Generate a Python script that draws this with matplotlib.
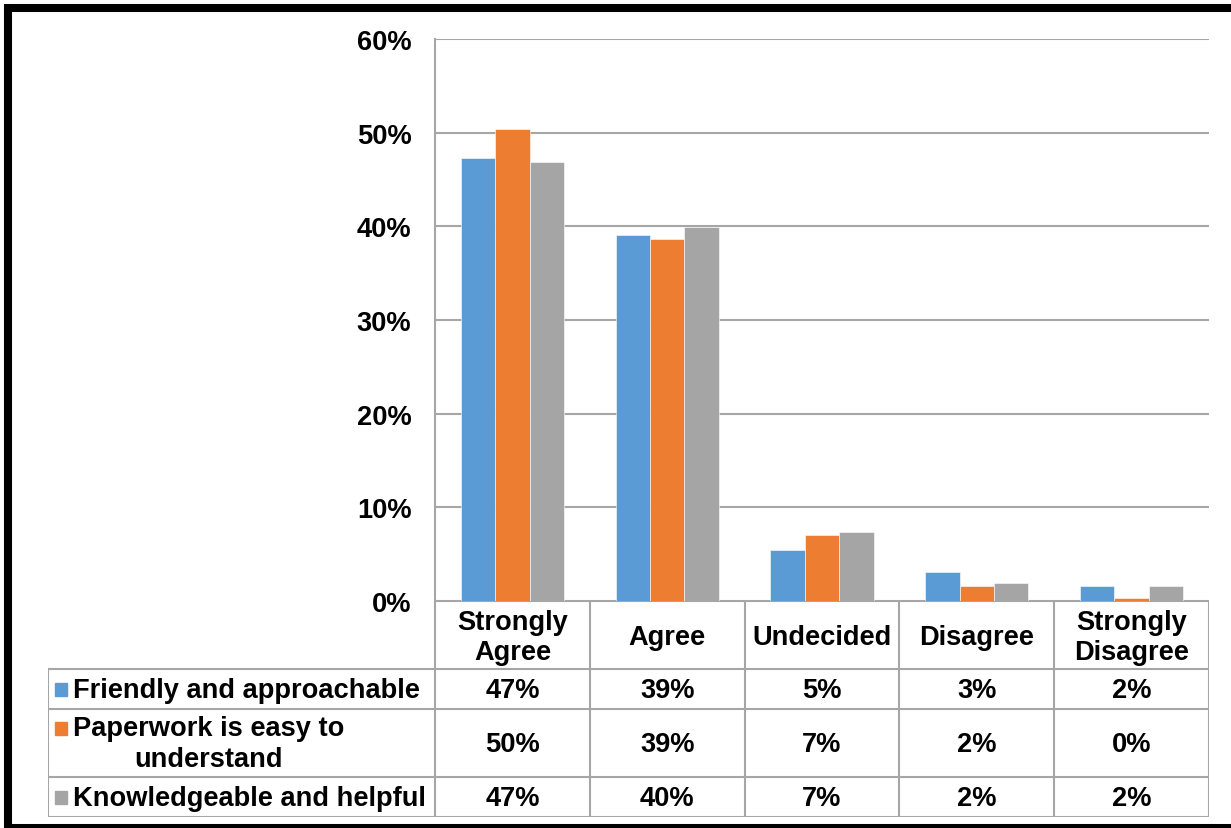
import matplotlib.pyplot as plt
from matplotlib.patches import Rectangle

# survey responses (percent of respondents)
categories = ['Strongly\nAgree', 'Agree', 'Undecided', 'Disagree', 'Strongly\nDisagree']
series_names = ['Friendly and approachable', 'Paperwork is easy to\nunderstand',
                'Knowledgeable and helpful']
friendly = [47.3, 39.1, 5.4, 3.1, 1.6]
paperwork = [50.4, 38.7, 7.0, 1.6, 0.3]
knowledge = [46.9, 39.9, 7.4, 1.9, 1.6]
yticks = [0, 10, 20, 30, 40, 50, 60]

colors = ['#5B9BD5', '#ED7D31', '#A5A5A5']
grid_c = '#A6A6A6'
W, H = 1231, 829
FS = 19.6
plt.rcParams['font.family'] = ['Liberation Sans', 'DejaVu Sans']
plt.rcParams['font.weight'] = 'bold'

fig = plt.figure(figsize=(W / 100, H / 100), dpi=100)

def px_axes(x0, y0, x1, y1):
    return fig.add_axes([x0 / W, 1 - y1 / H, (x1 - x0) / W, (y1 - y0) / H])

# column chart
ax = px_axes(435, 40, 1209, 602)
data = [friendly, paperwork, knowledge]
bw = 1 / 4.5
for k, vals in enumerate(data):
    xs = [i + (k - 1) * bw for i in range(len(categories))]
    ax.bar(xs, vals, width=bw, color=colors[k], edgecolor='white', linewidth=0.4, zorder=3)
ax.set_xlim(-0.5, len(categories) - 0.5)
ax.set_ylim(0, 60)
ax.set_yticks(yticks)
ax.set_yticklabels([f'{t}%' for t in yticks], fontsize=FS, fontweight='bold')
ax.tick_params(axis='y', length=0, pad=17)
ax.set_xticks([])
ax.yaxis.grid(True, color=grid_c, linewidth=1.5, zorder=0)
for s in ['top', 'right', 'bottom']:
    ax.spines[s].set_visible(False)
ax.spines['left'].set_color(grid_c)
ax.spines['left'].set_linewidth(1.5)

# data table below the chart, same category scale
tb = px_axes(48, 602, 1209, 818)
tb.set_xlim(-3, len(categories) - 0.5)
tb.set_ylim(216, 0)
tb.axis('off')
rows = [0, 68, 108, 176, 216]
lw = 1.5
tb.plot([-0.5, 4.5], [0, 0], color=grid_c, lw=lw)
for y in rows[1:]:
    tb.plot([-3, 4.5], [y, y], color=grid_c, lw=lw)
tb.plot([-3, -3], [68, 216], color=grid_c, lw=lw)
for i in range(len(categories) + 1):
    tb.plot([i - 0.5, i - 0.5], [0, 216], color=grid_c, lw=lw)

for i, c in enumerate(categories):
    tb.text(i, 36, c, ha='center', va='center', fontsize=FS, fontweight='bold',
            linespacing=1.25)
for k, vals in enumerate(data):
    yc = (rows[k + 1] + rows[k + 2]) / 2
    nlines = series_names[k].count('\n') + 1
    # legend key sits beside the first line of the label
    ky = yc - (nlines - 1) * 15
    tb.add_patch(Rectangle((-2.955, ky - 6.5), 12 / 154.8, 13, color=colors[k], clip_on=False))
    tb.text(-2.84, yc + 1, series_names[k], ha='left', va='center', fontsize=FS,
            fontweight='bold', multialignment='center', linespacing=1.25)
    for i, v in enumerate(vals):
        tb.text(i, yc + 1, f'{round(v):d}%', ha='center', va='center', fontsize=FS,
                fontweight='bold')

# frame around the chart
fig.add_artist(Rectangle((8 / W, 1 - 829 / H), 1.2, (829 - 9) / H, fill=False,
                         edgecolor='black', linewidth=5.8, transform=fig.transFigure))

fig.savefig('out.png', dpi=100)
